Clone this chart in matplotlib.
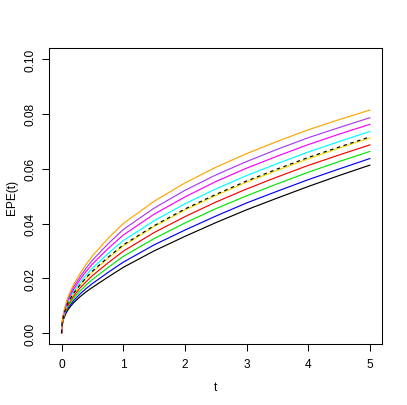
import matplotlib
matplotlib.use("Agg")
import matplotlib.pyplot as plt

plt.rcParams['font.family'] = ['Liberation Sans', 'DejaVu Sans']

t = [0, 0.01, 0.03, 0.06, 0.1, 0.15, 0.2, 0.3, 0.4, 0.5, 0.75, 1, 1.5, 2, 2.5, 3, 3.5, 4, 4.5, 5]

epe_black   = [0, 0.0030, 0.0050, 0.0067, 0.0084, 0.0099, 0.0112, 0.0133, 0.0151, 0.0167, 0.0204, 0.0240, 0.0300, 0.0353, 0.0403, 0.0450, 0.0493, 0.0535, 0.0575, 0.0613]
epe_blue    = [0, 0.0031, 0.0053, 0.0071, 0.0090, 0.0106, 0.0120, 0.0143, 0.0163, 0.0181, 0.0221, 0.0259, 0.0322, 0.0376, 0.0427, 0.0475, 0.0518, 0.0560, 0.0599, 0.0637]
epe_green   = [0, 0.0033, 0.0056, 0.0075, 0.0096, 0.0114, 0.0129, 0.0154, 0.0176, 0.0196, 0.0239, 0.0280, 0.0345, 0.0402, 0.0454, 0.0501, 0.0545, 0.0587, 0.0626, 0.0663]
epe_red     = [0, 0.0034, 0.0058, 0.0079, 0.0101, 0.0121, 0.0137, 0.0165, 0.0188, 0.0210, 0.0256, 0.0299, 0.0367, 0.0425, 0.0478, 0.0526, 0.0570, 0.0612, 0.0650, 0.0687]
epe_yellow  = [0, 0.0036, 0.0061, 0.0083, 0.0107, 0.0127, 0.0145, 0.0175, 0.0201, 0.0223, 0.0273, 0.0318, 0.0389, 0.0449, 0.0502, 0.0551, 0.0594, 0.0636, 0.0675, 0.0712]
epe_dashed  = [0, 0.0036, 0.0061, 0.0084, 0.0108, 0.0129, 0.0147, 0.0176, 0.0203, 0.0226, 0.0276, 0.0322, 0.0392, 0.0453, 0.0506, 0.0555, 0.0599, 0.0641, 0.0679, 0.0716]
epe_cyan    = [0, 0.0037, 0.0063, 0.0087, 0.0112, 0.0134, 0.0154, 0.0185, 0.0213, 0.0237, 0.0290, 0.0338, 0.0410, 0.0472, 0.0526, 0.0575, 0.0619, 0.0661, 0.0699, 0.0736]
epe_magenta = [0, 0.0039, 0.0066, 0.0091, 0.0118, 0.0142, 0.0162, 0.0196, 0.0226, 0.0252, 0.0308, 0.0358, 0.0434, 0.0497, 0.0553, 0.0602, 0.0646, 0.0688, 0.0726, 0.0762]
epe_purple  = [0, 0.0040, 0.0069, 0.0095, 0.0124, 0.0149, 0.0171, 0.0206, 0.0238, 0.0266, 0.0325, 0.0378, 0.0456, 0.0521, 0.0577, 0.0626, 0.0671, 0.0713, 0.0750, 0.0786]
epe_orange  = [0, 0.0042, 0.0072, 0.0100, 0.0130, 0.0157, 0.0180, 0.0218, 0.0252, 0.0282, 0.0345, 0.0400, 0.0481, 0.0548, 0.0605, 0.0655, 0.0700, 0.0742, 0.0779, 0.0814]

x_ticks = [0, 1, 2, 3, 4, 5]
y_ticks = [0.00, 0.02, 0.04, 0.06, 0.08, 0.10]
y_ticklabels = ["0.00", "0.02", "0.04", "0.06", "0.08", "0.10"]

fig = plt.figure(figsize=(4.07, 4.06), dpi=100)
ax = fig.add_axes([0.121, 0.150, 0.818, 0.729])

lw = 0.85
ax.plot(t, epe_black, color='black', lw=lw)
ax.plot(t, epe_blue, color='#0000FF', lw=lw)
ax.plot(t, epe_green, color='#00E600', lw=lw)
ax.plot(t, epe_red, color='#FF0000', lw=lw)
ax.plot(t, epe_yellow, color='#F5DC00', lw=lw)
ax.plot(t, epe_cyan, color='#00FFFF', lw=lw)
ax.plot(t, epe_magenta, color='#FF00FF', lw=lw)
ax.plot(t, epe_purple, color='#A83CF0', lw=lw)
ax.plot(t, epe_orange, color='#FFA500', lw=lw)
ax.plot(t, epe_dashed, color='black', lw=lw, ls=(0, (3, 3)))

ax.set_xlim(-0.2, 5.2)
ax.set_ylim(-0.004, 0.104)
ax.set_xticks(x_ticks)
ax.set_xticklabels([str(v) for v in x_ticks])
ax.set_yticks(y_ticks)
ax.set_yticklabels(y_ticklabels, rotation=90, va='center')

for s in ax.spines.values():
    s.set_linewidth(0.75)
    s.set_color('black')
ax.tick_params(direction='out', length=5, width=0.75, labelsize=8.6, pad=5, colors='black')
ax.tick_params(axis='y', pad=4)

ax.set_xlabel('t', fontsize=8.6, va='center')
ax.xaxis.set_label_coords(0.5, -0.144)
ax.set_ylabel('EPE(t)', fontsize=8.6, va='center')
ax.yaxis.set_label_coords(-0.112, 0.5)

fig.savefig('out.png', dpi=100)
